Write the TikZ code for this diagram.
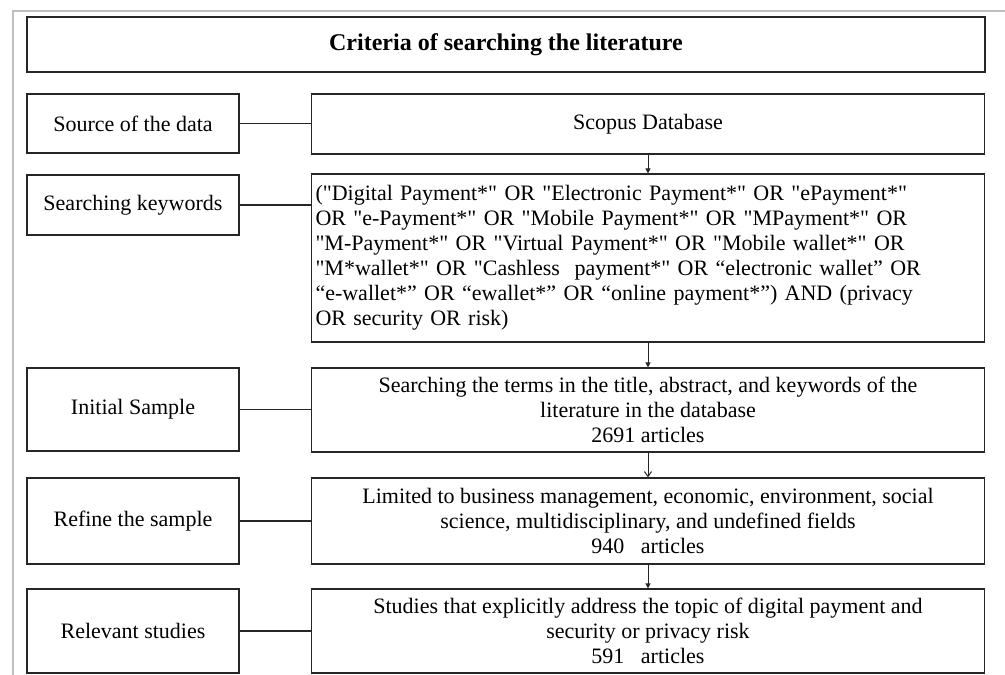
\documentclass[tikz,border=0pt]{standalone}
\usepackage{fontspec}
\setmainfont{Liberation Serif}[Ligatures=TeXOff]
\usetikzlibrary{arrows.meta}
\begin{document}
\begin{tikzpicture}[x=1pt,y=-1pt,
  box/.style={draw=black!85, line width=1.2pt, inner sep=0pt, fill=white,
    font=\fontsize{22}{25}\selectfont, align=center},
  leftbox/.style={box, minimum width=212pt},
  rightbox/.style={box, minimum width=673pt},
  conn/.style={draw=black!85, line width=1.2pt},
  arr/.style={draw=black!85, line width=1pt, -{Triangle[length=5pt,width=5pt]}},
  arropen/.style={draw=black!85, line width=1pt, -{Straight Barb[length=5pt,width=7pt]}},
  frame/.style={draw=black!25, line width=1.5pt}]
\useasboundingbox (0,0) rectangle (1005,675);
\fill[white] (0,0) rectangle (1005,675);
\draw[frame] (1005,11) -| (13,675);

\node[box, line width=1.6pt, minimum width=958pt, minimum height=55pt,
  font=\fontsize{24}{27}\selectfont\bfseries] (title) at (506,44.5) {Criteria of searching the literature};

\node[leftbox, minimum height=59pt] (src) at (133,123.5) {Source of the data};
\node[leftbox, minimum height=60pt] (kwl) at (133,205) {Searching keywords};
\node[leftbox, minimum height=83pt] (inl) at (133,409.5) {Initial Sample};
\node[leftbox, minimum height=86pt] (rfl) at (133,521) {Refine the sample};
\node[leftbox, minimum height=84pt] (rll) at (133,631) {Relevant studies};

\node[rightbox, minimum height=60pt] (scopus) at (648,124) {Scopus Database};
\node[rightbox, minimum height=168pt, text width=665pt, align=left] (kw) at (648,258)
 {("Digital Payment*" OR "Electronic Payment*" OR "ePayment*"\\
  OR "e-Payment*" OR "Mobile Payment*" OR "MPayment*" OR\\
  "M-Payment*" OR "Virtual Payment*" OR "Mobile wallet*" OR\\
  "M*wallet*" OR "Cashless\ \ payment*" OR “electronic wallet” OR\\
  “e-wallet*” OR “ewallet*” OR “online payment*”) AND (privacy\\
  OR security OR risk)};
\node[rightbox, minimum height=84pt] (ini) at (648,410)
 {Searching the terms in the title, abstract, and keywords of the\\
  literature in the database\\
  2691 articles};
\node[rightbox, minimum height=86pt] (rfr) at (648,521)
 {Limited to business management, economic, environment, social\\
  science, multidisciplinary, and undefined fields\\
  940\ \ \ articles};
\node[rightbox, minimum height=84pt] (rlr) at (648,631)
 {Studies that explicitly address the topic of digital payment and\\
  security or privacy risk\\
  591\ \ \ articles};

\draw[conn] (src.east) -- (src.east -| scopus.west);
\draw[conn] (kwl.east) -- (kwl.east -| kw.west);
\draw[conn] (inl.east) -- (inl.east -| ini.west);
\draw[conn] (rfl.east) -- (rfl.east -| rfr.west);
\draw[conn] (rll.east) -- (rll.east -| rlr.west);

\draw[arr] (scopus.south) -- (kw.north);
\draw[arr] (kw.south) -- (ini.north);
\draw[arropen] (ini.south) -- (rfr.north);
\draw[arr] (rfr.south) -- (rlr.north);
\end{tikzpicture}
\end{document}
